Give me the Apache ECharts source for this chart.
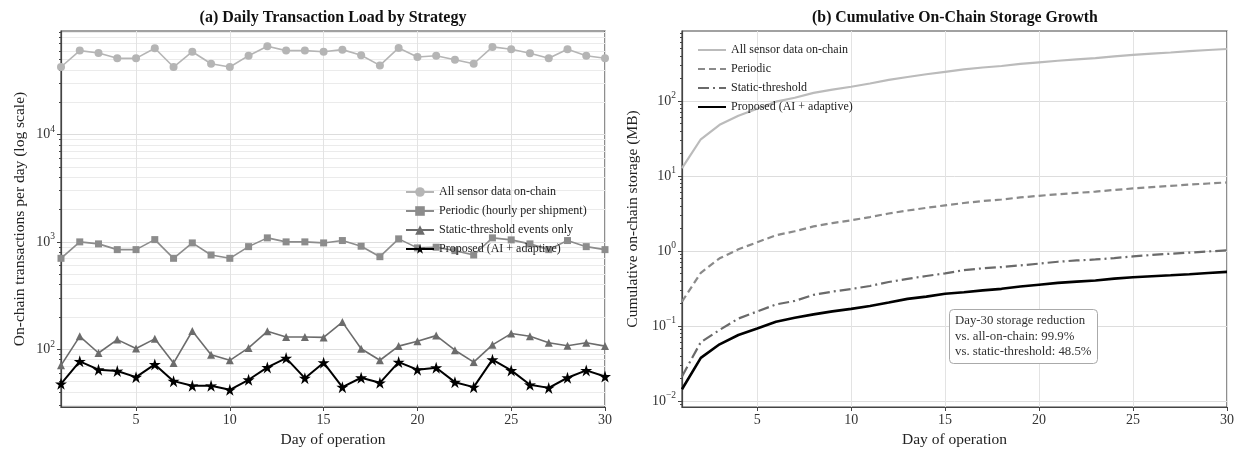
<!DOCTYPE html>
<html>
<head>
<meta charset="utf-8">
<script src="https://cdn.jsdelivr.net/npm/echarts@6/dist/echarts.min.js"></script>
<style>
  html, body { margin: 0; padding: 0; background: #fff; }
  #main { width: 1236px; height: 452px; }
</style>
</head>
<body>
<div id="main"></div>
<script>
// days of operation
var days = [1,2,3,4,5,6,7,8,9,10,11,12,13,14,15,16,17,18,19,20,21,22,23,24,25,26,27,28,29,30];

// (a) daily on-chain transactions
var dailyAll = [42500,60400,57400,51200,51200,63600,42500,59000,45600,42500,54200,66400,60400,60400,59000,
                61700,54700,44000,64000,52700,54200,49700,45600,65400,62200,57000,51200,62200,54200,51200];
var dailyPeriodic = [703,1000,958,847,847,1050,703,978,755,703,903,1090,1000,1000,978,
                     1029,911,728,1067,879,892,829,755,1090,1044,958,847,1029,903,847];
var dailyStatic = [70.8,132,92.3,123,101.5,125,74.4,148,89,78.9,103,147,130,130,129,
                   179,101,79,107,119,134,98,76,110,140,132,115,108,115,107];
var dailyProposed = [47.7,77.2,64.6,62.7,55,72.3,50.5,45.7,45.7,41.9,52,67.8,82.8,53.8,75,
                     44.4,54.3,48.7,76,64.6,67.4,49.4,44.4,80,63.6,46.7,43.7,54.3,63.6,55.8];

// (b) cumulative storage, MB
var cumAll = [12.75,30.87,48.09,63.45,78.81,97.89,110.6,128.3,142.0,154.8,171.0,191.0,209.1,227.2,244.9,
              263.4,279.8,293.0,312.2,328.0,344.3,359.2,372.9,392.5,411.2,428.3,443.6,462.3,478.5,493.9];
var cumPeriodic = [0.211,0.511,0.798,1.052,1.307,1.622,1.832,2.126,2.352,2.563,2.834,3.161,3.461,3.761,4.055,
                   4.363,4.637,4.855,5.175,5.439,5.706,5.955,6.182,6.509,6.822,7.109,7.363,7.672,7.943,8.197];
var cumStatic = [0.0212,0.0608,0.0885,0.1254,0.1559,0.1934,0.2157,0.2601,0.2868,0.3105,0.3414,0.3855,0.4245,0.4635,0.5022,
                 0.5559,0.5862,0.6099,0.642,0.6777,0.7179,0.7473,0.7701,0.8031,0.8451,0.8847,0.9192,0.9516,0.9861,1.0182];
var cumProposed = [0.0143,0.0375,0.0569,0.0757,0.0922,0.1139,0.129,0.1427,0.1564,0.169,0.1846,0.2049,0.2298,0.2459,0.2684,
                   0.2817,0.298,0.3126,0.3354,0.3548,0.375,0.3899,0.4032,0.4272,0.4463,0.4603,0.4734,0.4897,0.5087,0.5255];

// tick labels
var xTicks = [5,10,15,20,25,30];
var majorA = [100,1000,10000];
var minorA = [30,40,50,60,70,80,90,200,300,400,500,600,700,800,900,
              2000,3000,4000,5000,6000,7000,8000,9000,20000,30000,40000,50000,60000,70000,80000,90000];
var majorB = [0.01,0.1,1,10,100];
var minorB = [0.009,0.02,0.03,0.04,0.05,0.06,0.07,0.08,0.09,0.2,0.3,0.4,0.5,0.6,0.7,0.8,0.9,
              2,3,4,5,6,7,8,9,20,30,40,50,60,70,80,90,200,300,400,500,600,700,800];

var FONT = 'Liberation Serif';
var AXC = '#444';
var starPath = 'path://M1,0 L1.223,0.693 L1.951,0.691 L1.361,1.117 L1.588,1.809 L1,1.38 L0.412,1.809 L0.639,1.117 L0.049,0.691 L0.777,0.693 Z';

function pairs(vals) {
    var out = [];
    for (var i = 0; i < days.length; i++) out.push([days[i], vals[i]]);
    return out;
}

function powLabel(v) {
    var e = Math.round(Math.log(v) / Math.LN10);
    var s = e < 0 ? '\u2212' + (-e) : '' + e;
    return '{b|10}{sup|' + s + '}';
}
var powRich = {
    b: {fontSize: 14, fontFamily: FONT, color: '#333', lineHeight: 20},
    sup: {fontSize: 9.5, fontFamily: FONT, color: '#333', lineHeight: 10, verticalAlign: 'top'}
};

function xAxisCfg(grid) {
    return {
        type: 'value', gridIndex: grid, min: 1, max: 30,
        name: 'Day of operation', nameLocation: 'middle', nameGap: 24,
        nameTextStyle: {fontFamily: FONT, fontSize: 15.5, color: '#222'},
        axisLine: {show: true, lineStyle: {color: AXC, width: 1.2}},
        axisTick: {show: true, length: 4, customValues: xTicks, lineStyle: {color: AXC}},
        axisLabel: {customValues: xTicks, fontFamily: FONT, fontSize: 14, color: '#333', margin: 6},
        splitLine: {show: true, lineStyle: {color: '#e3e3e3', width: 1}}
    };
}

function yMajor(grid, min, max, ticks, name, gap) {
    return {
        type: 'log', logBase: 10, gridIndex: grid, position: 'left', min: min, max: max,
        name: name, nameLocation: 'middle', nameGap: gap,
        nameTextStyle: {fontFamily: FONT, fontSize: 15.5, color: '#222'},
        axisLine: {show: true, lineStyle: {color: AXC, width: 1.2}},
        axisTick: {show: true, length: 4, customValues: ticks, lineStyle: {color: AXC}},
        axisLabel: {customValues: ticks, formatter: powLabel, rich: powRich, margin: 6},
        splitLine: {show: true, lineStyle: {color: '#dddddd', width: 1}}
    };
}

function yMinor(grid, min, max, ticks, showGrid) {
    return {
        type: 'log', logBase: 10, gridIndex: grid, position: 'left', offset: 0, min: min, max: max,
        axisLine: {show: false},
        axisTick: {show: true, length: 2, customValues: ticks, lineStyle: {color: AXC}},
        axisLabel: {show: false, customValues: ticks},
        splitLine: {show: showGrid, lineStyle: {color: '#ebebeb', width: 1}}
    };
}

var chart = echarts.init(document.getElementById('main'));
var option = {
    backgroundColor: '#fff',
    animation: false,
    title: [
        {text: '(a) Daily Transaction Load by Strategy', left: 328, top: 5, textAlign: 'center',
         textStyle: {fontFamily: FONT, fontSize: 16, fontWeight: 'bold', color: '#111'}},
        {text: '(b) Cumulative On-Chain Storage Growth', left: 950, top: 5, textAlign: 'center',
         textStyle: {fontFamily: FONT, fontSize: 15.8, fontWeight: 'bold', color: '#111'}},
        {text: 'Day-30 storage reduction\nvs. all-on-chain: 99.9%\nvs. static-threshold: 48.5%',
         left: 949, top: 309, padding: [4, 6, 4, 6],
         backgroundColor: '#fff', borderColor: '#aaa', borderWidth: 1, borderRadius: 4,
         textStyle: {fontFamily: FONT, fontSize: 12.8, fontWeight: 'normal', color: '#333', lineHeight: 15.5}}
    ],
    grid: [
        {left: 61, top: 31, width: 544, height: 376, show: true, borderColor: AXC, borderWidth: 1.2, outerBoundsMode: 'none'},
        {left: 682, top: 31, width: 545, height: 376, show: true, borderColor: AXC, borderWidth: 1.2, outerBoundsMode: 'none'}
    ],
    legend: [
        {
            orient: 'vertical', left: 400, top: 181, itemWidth: 28, itemHeight: 12, itemGap: 7,
            textStyle: {fontFamily: FONT, fontSize: 12, color: '#222'},
            data: ['All sensor data on-chain', 'Periodic (hourly per shipment)', 'Static-threshold events only', 'Proposed (AI + adaptive)']
        },
        {
            orient: 'vertical', left: 692, top: 39, itemWidth: 28, itemHeight: 12, itemGap: 7,
            itemStyle: {opacity: 0},
            textStyle: {fontFamily: FONT, fontSize: 12, color: '#222'},
            data: ['All sensor data on-chain ', 'Periodic', 'Static-threshold', 'Proposed (AI + adaptive) ']
        }
    ],
    xAxis: [xAxisCfg(0), xAxisCfg(1)],
    yAxis: [
        yMajor(0, 29, 92000, majorA, 'On-chain transactions per day (log scale)', 33),
        yMinor(0, 29, 92000, minorA, true),
        yMajor(1, 0.0083, 858, majorB, 'Cumulative on-chain storage (MB)', 41),
        yMinor(1, 0.0083, 858, minorB, false)
    ],
    series: [
        {name: 'All sensor data on-chain', type: 'line', xAxisIndex: 0, yAxisIndex: 0, data: pairs(dailyAll),
         symbol: 'circle', symbolSize: 8, lineStyle: {color: '#b5b5b5', width: 1.6}, itemStyle: {color: '#b5b5b5'}},
        {name: 'Periodic (hourly per shipment)', type: 'line', xAxisIndex: 0, yAxisIndex: 0, data: pairs(dailyPeriodic),
         symbol: 'rect', symbolSize: 7, lineStyle: {color: '#8c8c8c', width: 1.6}, itemStyle: {color: '#8c8c8c'}},
        {name: 'Static-threshold events only', type: 'line', xAxisIndex: 0, yAxisIndex: 0, data: pairs(dailyStatic),
         symbol: 'triangle', symbolSize: 8, lineStyle: {color: '#6c6c6c', width: 1.6}, itemStyle: {color: '#6c6c6c'}},
        {name: 'Proposed (AI + adaptive)', type: 'line', xAxisIndex: 0, yAxisIndex: 0, data: pairs(dailyProposed),
         symbol: starPath, symbolSize: 12, lineStyle: {color: '#000', width: 2}, itemStyle: {color: '#000'}},

        {name: 'All sensor data on-chain ', type: 'line', xAxisIndex: 1, yAxisIndex: 2, data: pairs(cumAll),
         showSymbol: false, symbol: 'none', lineStyle: {color: '#bbbbbb', width: 2.2}, itemStyle: {color: '#bbbbbb'}},
        {name: 'Periodic', type: 'line', xAxisIndex: 1, yAxisIndex: 2, data: pairs(cumPeriodic),
         showSymbol: false, symbol: 'none', lineStyle: {color: '#8a8a8a', width: 2.2, type: [7, 4]}, itemStyle: {color: '#8a8a8a'}},
        {name: 'Static-threshold', type: 'line', xAxisIndex: 1, yAxisIndex: 2, data: pairs(cumStatic),
         showSymbol: false, symbol: 'none', lineStyle: {color: '#6a6a6a', width: 2.2, type: [11, 4, 2, 4]}, itemStyle: {color: '#6a6a6a'}},
        {name: 'Proposed (AI + adaptive) ', type: 'line', xAxisIndex: 1, yAxisIndex: 2, data: pairs(cumProposed),
         showSymbol: false, symbol: 'none', lineStyle: {color: '#000', width: 2.6}, itemStyle: {color: '#000'}}
    ]
};
chart.setOption(option);
</script>
</body>
</html>
